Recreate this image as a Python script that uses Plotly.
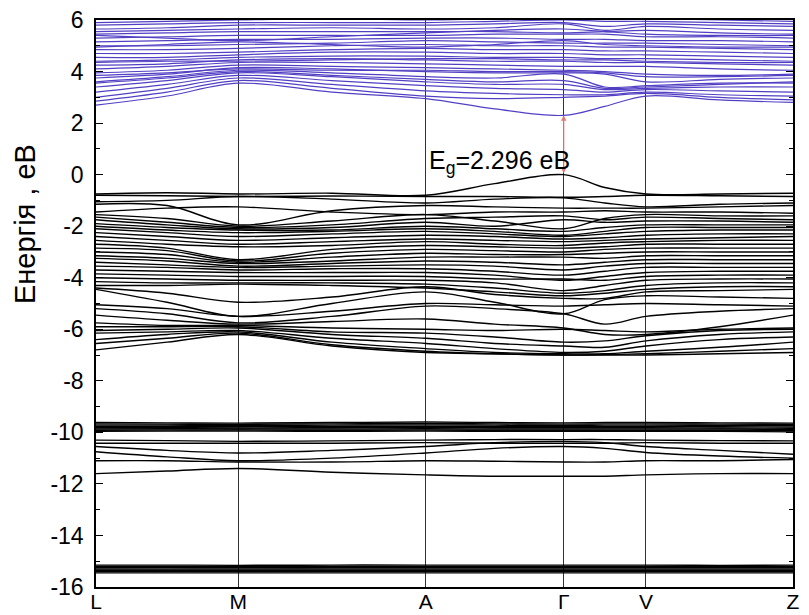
import plotly.graph_objects as go

# k-path nodes (high-symmetry points and points between them)
k_nodes = [0.0, 0.102, 0.204, 0.3385, 0.473, 0.572, 0.671, 0.730, 0.789, 0.8945, 1.0]
k_ticks = [0.0, 0.204, 0.473, 0.671, 0.789, 1.0]
k_labels = ["L", "M", "A", "Γ", "V", "Z"]

# Energies (eV) at the k-nodes
conduction_bands = [
    [2.70, 3.05, 3.55, 3.20, 2.95, 2.55, 2.30, 2.65, 3.05, 2.90, 2.80],
    [2.85, 3.20, 3.65, 3.35, 3.05, 2.95, 3.00, 3.05, 3.15, 3.00, 2.90],
    [3.00, 3.35, 3.75, 3.50, 3.25, 3.15, 3.10, 3.10, 3.20, 3.10, 3.05],
    [3.20, 3.50, 3.85, 3.65, 3.45, 3.35, 3.30, 3.20, 3.30, 3.25, 3.20],
    [3.40, 3.65, 3.95, 3.80, 3.60, 3.50, 3.50, 3.30, 3.35, 3.40, 3.40],
    [3.55, 3.75, 4.00, 3.85, 3.70, 3.60, 3.65, 3.35, 3.40, 3.50, 3.60],
    [3.60, 3.80, 4.05, 3.95, 3.80, 3.75, 3.90, 3.40, 3.45, 3.55, 3.55],
    [3.75, 3.90, 4.15, 4.10, 4.00, 3.95, 3.95, 3.90, 3.60, 3.70, 3.75],
    [3.85, 3.95, 4.10, 4.05, 4.05, 4.00, 4.00, 3.95, 3.80, 3.80, 3.85],
    [3.95, 4.05, 4.25, 4.20, 4.15, 4.10, 4.05, 4.00, 3.90, 3.85, 3.90],
    [4.10, 4.20, 4.35, 4.35, 4.30, 4.25, 4.20, 4.20, 4.20, 4.10, 4.05],
    [4.25, 4.30, 4.45, 4.50, 4.45, 4.40, 4.40, 4.35, 4.35, 4.30, 4.25],
    [4.35, 4.40, 4.40, 4.45, 4.50, 4.50, 4.45, 4.45, 4.40, 4.35, 4.35],
    [4.40, 4.45, 4.55, 4.60, 4.60, 4.55, 4.55, 4.50, 4.50, 4.45, 4.40],
    [4.55, 4.55, 4.65, 4.75, 4.75, 4.70, 4.70, 4.65, 4.65, 4.60, 4.55],
    [4.70, 4.70, 4.75, 4.85, 4.90, 4.85, 4.85, 4.80, 4.80, 4.75, 4.70],
    [4.85, 4.85, 4.90, 5.00, 5.05, 5.00, 5.00, 4.95, 4.95, 4.90, 4.85],
    [4.95, 5.05, 5.15, 5.05, 4.95, 5.05, 5.20, 5.05, 5.00, 4.95, 4.95],
    [5.00, 5.00, 5.05, 5.10, 5.20, 5.15, 5.10, 5.10, 5.10, 5.05, 5.00],
    [5.15, 5.20, 5.25, 5.25, 5.30, 5.30, 5.25, 5.25, 5.20, 5.20, 5.15],
    [5.30, 5.35, 5.40, 5.40, 5.40, 5.45, 5.45, 5.45, 5.35, 5.35, 5.30],
    [5.40, 5.30, 5.20, 5.35, 5.50, 5.60, 5.65, 5.55, 5.45, 5.40, 5.40],
    [5.45, 5.50, 5.55, 5.55, 5.55, 5.55, 5.50, 5.55, 5.60, 5.50, 5.45],
    [5.55, 5.60, 5.65, 5.70, 5.65, 5.70, 5.85, 5.60, 5.75, 5.65, 5.60],
    [5.65, 5.70, 5.80, 5.80, 5.80, 5.85, 5.90, 5.75, 5.85, 5.80, 5.75],
    [5.80, 5.85, 5.90, 5.90, 5.90, 5.95, 6.00, 5.95, 5.95, 5.90, 5.85],
    [5.90, 5.95, 6.00, 6.05, 6.00, 6.05, 6.10, 6.05, 6.05, 6.00, 5.95],
]

valence_bands = [
    [-0.75, -0.70, -0.75, -0.72, -0.80, -0.35, 0.00, -0.50, -0.75, -0.75, -0.72],
    [-0.80, -0.82, -0.85, -0.83, -0.85, -0.85, -0.88, -0.85, -0.80, -0.82, -0.85],
    [-1.05, -1.00, -0.85, -0.95, -1.10, -0.95, -0.90, -1.10, -1.25, -1.15, -1.10],
    [-1.15, -1.20, -1.95, -1.40, -1.20, -1.25, -1.30, -1.30, -1.30, -1.25, -1.20],
    [-1.45, -1.30, -1.25, -1.45, -1.55, -1.45, -1.45, -1.40, -1.45, -1.45, -1.50],
    [-1.55, -1.70, -2.00, -1.80, -1.55, -1.80, -2.10, -1.70, -1.55, -1.60, -1.60],
    [-1.65, -1.85, -2.05, -1.95, -1.70, -1.65, -1.60, -1.75, -1.65, -1.70, -1.75],
    [-1.75, -1.95, -2.10, -2.05, -1.85, -2.00, -1.75, -1.85, -1.80, -1.80, -1.85],
    [-1.90, -2.05, -2.15, -2.15, -2.00, -2.10, -2.20, -2.05, -1.95, -1.95, -1.95],
    [-2.00, -2.15, -2.25, -2.20, -2.10, -2.20, -2.35, -2.20, -2.05, -2.05, -2.05],
    [-2.10, -2.25, -2.40, -2.30, -2.20, -2.30, -2.40, -2.30, -2.20, -2.15, -2.15],
    [-2.25, -2.40, -2.55, -2.45, -2.35, -2.40, -2.50, -2.45, -2.35, -2.30, -2.30],
    [-2.40, -2.55, -2.70, -2.60, -2.50, -2.55, -2.60, -2.55, -2.50, -2.45, -2.40],
    [-2.55, -2.70, -2.80, -2.75, -2.60, -2.70, -2.75, -2.65, -2.60, -2.55, -2.55],
    [-2.70, -2.85, -3.30, -2.90, -2.75, -2.80, -2.85, -2.80, -2.70, -2.70, -2.70],
    [-2.85, -2.95, -3.35, -3.05, -2.90, -2.95, -3.00, -2.90, -2.85, -2.85, -2.85],
    [-3.00, -3.10, -3.40, -3.20, -3.05, -3.10, -3.10, -3.05, -3.00, -3.00, -3.00],
    [-3.15, -3.25, -3.45, -3.35, -3.20, -3.20, -3.20, -3.25, -3.15, -3.15, -3.15],
    [-3.25, -3.35, -3.55, -3.45, -3.35, -3.40, -3.50, -3.40, -3.30, -3.30, -3.30],
    [-3.40, -3.50, -3.60, -3.55, -3.50, -3.55, -3.70, -3.55, -3.45, -3.45, -3.45],
    [-3.55, -3.60, -3.70, -3.65, -3.65, -3.75, -3.90, -3.75, -3.60, -3.60, -3.60],
    [-3.70, -3.75, -3.80, -3.80, -3.80, -3.90, -4.10, -3.95, -3.80, -3.75, -3.75],
    [-3.85, -3.90, -3.95, -3.95, -3.95, -4.05, -4.05, -4.10, -3.95, -3.90, -3.90],
    [-4.00, -4.05, -4.10, -4.10, -4.10, -4.20, -4.50, -4.30, -4.10, -4.05, -4.05],
    [-4.15, -4.20, -4.20, -4.20, -4.25, -4.40, -4.60, -4.50, -4.30, -4.20, -4.20],
    [-4.30, -4.30, -4.25, -4.30, -4.40, -4.55, -4.70, -4.60, -4.45, -4.35, -4.35],
    [-4.40, -4.60, -4.95, -4.75, -4.35, -4.65, -4.80, -4.80, -4.55, -4.50, -4.45],
    [-4.45, -4.95, -5.50, -5.00, -4.55, -4.95, -5.40, -4.85, -4.70, -4.75, -4.80],
    [-5.05, -5.20, -5.50, -5.30, -5.00, -5.05, -5.10, -5.05, -5.00, -5.05, -5.10],
    [-5.20, -5.40, -5.75, -5.50, -5.10, -5.20, -5.40, -5.80, -5.50, -5.30, -5.20],
    [-5.45, -5.65, -5.80, -5.70, -5.60, -5.80, -5.95, -6.20, -6.20, -5.90, -5.45],
    [-5.75, -5.85, -5.85, -5.95, -6.00, -6.05, -6.00, -6.05, -6.10, -6.00, -5.95],
    [-5.90, -5.90, -5.90, -6.10, -6.15, -6.30, -6.50, -6.45, -6.25, -6.05, -6.00],
    [-6.05, -6.00, -5.95, -6.20, -6.35, -6.55, -6.65, -6.70, -6.45, -6.20, -6.10],
    [-6.15, -6.10, -6.05, -6.35, -6.55, -6.75, -6.90, -6.85, -6.65, -6.40, -6.30],
    [-6.40, -6.20, -6.10, -6.50, -6.75, -6.90, -6.95, -6.95, -6.85, -6.70, -6.50],
    [-6.55, -6.35, -6.15, -6.60, -6.85, -6.95, -7.00, -6.98, -6.95, -6.85, -6.75],
    [-6.80, -6.50, -6.20, -6.65, -6.90, -6.95, -7.00, -7.00, -7.00, -6.95, -6.90],
]

semicore_bands = [
    [-9.62, -9.63, -9.64, -9.62, -9.60, -9.62, -9.63, -9.62, -9.62, -9.63, -9.64],
    [-9.67, -9.68, -9.69, -9.67, -9.66, -9.67, -9.68, -9.67, -9.67, -9.68, -9.69],
    [-9.72, -9.72, -9.74, -9.72, -9.71, -9.72, -9.73, -9.72, -9.72, -9.73, -9.74],
    [-9.77, -9.77, -9.78, -9.77, -9.76, -9.77, -9.77, -9.77, -9.77, -9.78, -9.79],
    [-9.82, -9.82, -9.83, -9.82, -9.81, -9.82, -9.82, -9.82, -9.82, -9.83, -9.84],
    [-9.87, -9.86, -9.87, -9.87, -9.86, -9.87, -9.87, -9.87, -9.87, -9.87, -9.89],
    [-9.92, -9.91, -9.91, -9.92, -9.91, -9.92, -9.92, -9.92, -9.92, -9.92, -9.94],
    [-9.96, -9.95, -9.95, -9.96, -9.95, -9.96, -9.96, -9.96, -9.96, -9.96, -9.98],
    [-10.30, -10.32, -10.35, -10.33, -10.30, -10.28, -10.28, -10.28, -10.30, -10.32, -10.33],
    [-10.42, -10.42, -10.42, -10.42, -10.40, -10.42, -10.42, -10.42, -10.40, -10.42, -10.42],
    [-10.55, -10.70, -10.80, -10.70, -10.55, -10.40, -10.35, -10.40, -10.55, -10.70, -10.85],
    [-10.75, -10.95, -11.10, -11.00, -10.80, -10.62, -10.55, -10.62, -10.78, -10.92, -11.00],
    [-11.10, -11.10, -11.15, -11.15, -11.10, -11.12, -11.15, -11.15, -11.10, -11.10, -11.05],
    [-11.60, -11.50, -11.40, -11.55, -11.65, -11.70, -11.70, -11.70, -11.65, -11.60, -11.60],
]

core_bands = [
    [-15.15, -15.15, -15.16, -15.15, -15.15, -15.15, -15.15, -15.15, -15.15, -15.16, -15.15],
    [-15.20, -15.20, -15.20, -15.20, -15.20, -15.20, -15.20, -15.20, -15.20, -15.20, -15.20],
    [-15.25, -15.24, -15.25, -15.25, -15.25, -15.25, -15.25, -15.25, -15.25, -15.25, -15.25],
    [-15.30, -15.30, -15.30, -15.30, -15.30, -15.30, -15.30, -15.30, -15.30, -15.30, -15.30],
    [-15.35, -15.35, -15.35, -15.35, -15.35, -15.35, -15.35, -15.35, -15.35, -15.35, -15.35],
    [-15.40, -15.40, -15.40, -15.40, -15.40, -15.40, -15.40, -15.40, -15.40, -15.40, -15.40],
    [-15.45, -15.45, -15.45, -15.45, -15.45, -15.45, -15.45, -15.45, -15.45, -15.45, -15.45],
]

gap_value = 2.296
y_tick_vals = [6, 4, 2, 0, -2, -4, -6, -8, -10, -12, -14, -16]
y_tick_text = ["6", "4", "2", "0", "-2", "-4", "-6", "-8", "-10", "-12", "-14", "-16"]
y_title = "Енергія , еВ"

CB_COLOR = "#5240c4"
VB_COLOR = "#000000"

fig = go.Figure()

for band in conduction_bands:
    fig.add_trace(go.Scatter(x=k_nodes, y=band, mode="lines",
                             line=dict(color=CB_COLOR, width=1.2, shape="spline", smoothing=1.0),
                             hoverinfo="skip", showlegend=False))
for group in (valence_bands, semicore_bands, core_bands):
    for band in group:
        fig.add_trace(go.Scatter(x=k_nodes, y=band, mode="lines",
                                 line=dict(color=VB_COLOR, width=1.4, shape="spline", smoothing=1.0),
                                 hoverinfo="skip", showlegend=False))

gamma_k = k_ticks[3]

# double arrow for the gap
fig.add_annotation(x=gamma_k, y=gap_value, ax=gamma_k, ay=0, xref="x", yref="y",
                   axref="x", ayref="y", showarrow=True, arrowhead=2, arrowside="end+start",
                   arrowsize=0.9, arrowwidth=1.2, arrowcolor="#e5776e", text="")
fig.add_annotation(x=gamma_k, y=0.5, xref="x", yref="y", xanchor="right", yanchor="middle",
                   xshift=8, showarrow=False,
                   text="E<sub>g</sub>=2.296 еВ",
                   font=dict(family="Liberation Sans, Arial", size=25, color="#000"))
# y-axis title (placed higher than the plot centre, as in the original)
fig.add_annotation(x=-0.102, y=0.64, xref="paper", yref="paper", textangle=-90,
                   xanchor="center", yanchor="middle", showarrow=False,
                   text=y_title, font=dict(family="Liberation Sans, Arial", size=29, color="#000"))

fig.update_layout(
    width=809, height=615,
    margin=dict(l=96, r=16, t=20, b=28),
    paper_bgcolor="white", plot_bgcolor="white",
    font=dict(family="Liberation Sans, Arial", color="#000"),
    xaxis=dict(range=[0, 1], tickvals=k_ticks, ticktext=k_labels, ticks="",
               showgrid=True, gridcolor="#333", gridwidth=0.8,
               showline=True, linecolor="#000", linewidth=1.5, mirror=True,
               zeroline=False, tickfont=dict(size=21), ticklabelstandoff=-5,
               automargin=False),
    yaxis=dict(range=[-16, 6], tickvals=y_tick_vals, ticktext=y_tick_text,
               ticks="inside", ticklen=7, tickwidth=1.2, tickcolor="#000",
               minor=dict(ticks="inside", ticklen=4, tickwidth=1, tickcolor="#000",
                          tickvals=[5, 3, 1, -1, -3, -5, -7, -9, -11, -13, -15], showgrid=False),
               showgrid=False, zeroline=False, automargin=False,
               showline=True, linecolor="#000", linewidth=1.5, mirror="ticks",
               tickfont=dict(size=23), ticklabelstandoff=6),
)

fig.write_html("out.html")
